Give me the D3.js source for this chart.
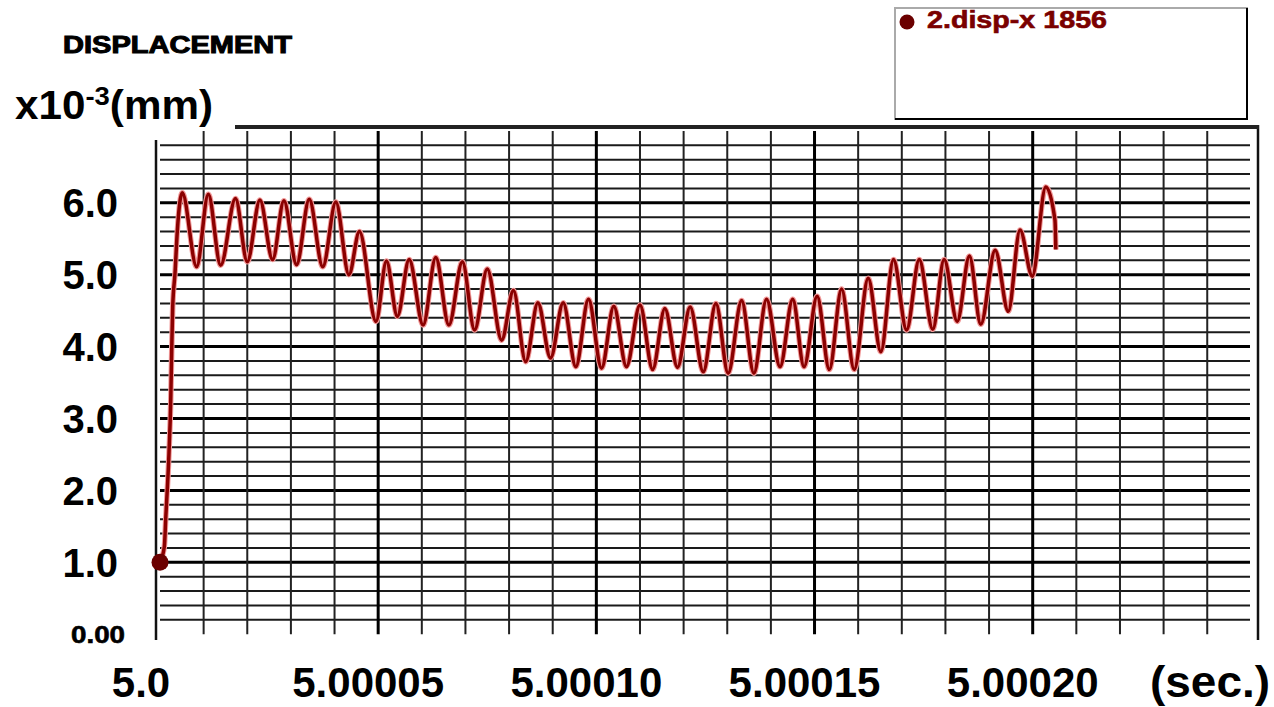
<!DOCTYPE html>
<html>
<head>
<meta charset="utf-8">
<script src="https://d3js.org/d3.v7.min.js"></script>
<style>
  body { margin: 0; background: #fff; }
  text { font-family: "Liberation Sans", Arial, sans-serif; font-weight: bold; }
</style>
</head>
<body>
<div id="graph"></div>
<script>

// time offset from 5.0 sec, in microseconds
var timeUs = [0, 1.0, 1.3, 2.06, 2.45, 2.68, 2.91, 3.44, 3.96,
  5.1, 8.4, 11.07, 13.9, 17.3, 20.0, 22.9, 25.8, 28.4, 31.3, 34.2, 37.3, 40.3, 43.3,
  45.7, 49.5, 51.9, 54.4, 57.1, 60.3, 63.2, 66.2, 69.3, 72.1, 75.0, 78.3,
  81.0, 83.8, 86.6, 89.5, 92.4, 95.3, 98.2, 101.2, 104.0, 106.9, 110.0, 112.9,
  115.7, 118.6, 121.5, 124.5, 127.4, 130.2, 133.3, 136.1, 139.0, 142.1, 145.0, 147.6,
  150.6, 153.4, 156.2, 159.1, 162.3, 165.2, 168.1, 171.1, 174.0, 177.1, 179.7, 182.7,
  185.5, 188.1, 191.4, 194.4, 197.1, 199.9, 203.0, 205.1, 205.3];

// displacement x10^-3 mm
var dispX = [1.0, 1.22, 1.59, 2.52, 3.22, 3.93, 4.55, 5.02, 5.6,
  6.14, 5.11, 6.12, 5.13, 6.06, 5.18, 6.04, 5.21, 6.03, 5.14, 6.05, 5.11, 6.01, 5.0,
  5.6, 4.35, 5.19, 4.42, 5.21, 4.30, 5.24, 4.30, 5.18, 4.23, 5.08, 4.09,
  4.78, 3.79, 4.61, 3.84, 4.61, 3.72, 4.66, 3.70, 4.56, 3.72, 4.58, 3.68,
  4.53, 3.71, 4.55, 3.65, 4.60, 3.63, 4.64, 3.63, 4.66, 3.72, 4.66, 3.72,
  4.70, 3.68, 4.80, 3.68, 4.95, 3.93, 5.21, 4.23, 5.21, 4.24, 5.21, 4.35,
  5.26, 4.31, 5.34, 4.49, 5.62, 4.98, 6.22, 5.76, 5.35];

var xTickValues = [0, 50, 100, 150, 200];
var xTickLabels = ["5.0", "5.00005", "5.00010", "5.00015", "5.00020"];
var yTickValues = [1, 2, 3, 4, 5, 6];
var yTickLabels = ["1.0", "2.0", "3.0", "4.0", "5.0", "6.0"];
var seriesName = "2.disp-x 1856";

var lineColor = "#8b0000";

var svg = d3.select("#graph")
  .append("svg")
    .attr("width", 1274)
    .attr("height", 707);

// scales
var x = d3.scaleLinear().domain([0, 200]).range([160, 1032.7]);
var y = d3.scaleLinear().domain([0, 6]).range([634.2, 202.8]);

// horizontal grid (every 0.2)
var hGrid = d3.range(1, 35).map(function(i) { return +(i * 0.2).toFixed(1); });
svg.append("g")
  .selectAll("line")
  .data(hGrid)
  .enter()
  .append("line")
    .attr("x1", 160)
    .attr("x2", 1250)
    .attr("y1", function(d) { return y(d); })
    .attr("y2", function(d) { return y(d); })
    .attr("stroke", function(d) { return Number.isInteger(d) ? "#000" : "#1a1a1a"; })
    .attr("stroke-width", function(d) { return Number.isInteger(d) ? 3 : 2; });

// vertical grid (every 10 us)
var vGrid = d3.range(10, 250, 10);
svg.append("g")
  .selectAll("line")
  .data(vGrid)
  .enter()
  .append("line")
    .attr("x1", function(d) { return x(d); })
    .attr("x2", function(d) { return x(d); })
    .attr("y1", 131)
    .attr("y2", y(0))
    .attr("stroke", function(d) { return d % 50 == 0 ? "#000" : "#222"; })
    .attr("stroke-width", function(d) { return d % 50 == 0 ? 3 : 2; });

// frame: left axis, right axis, top line
svg.append("line")
  .attr("x1", 156).attr("x2", 156).attr("y1", 140).attr("y2", 640)
  .attr("stroke", "#111").attr("stroke-width", 2.5);
svg.append("line")
  .attr("x1", 1258).attr("x2", 1258).attr("y1", 125).attr("y2", 640)
  .attr("stroke", "#111").attr("stroke-width", 2.5);
svg.append("line")
  .attr("x1", 235).attr("x2", 1259).attr("y1", 127).attr("y2", 127)
  .attr("stroke", "#222").attr("stroke-width", 4);

// y labels
svg.append("g")
  .selectAll("text")
  .data(yTickValues)
  .enter()
  .append("text")
    .attr("x", 118)
    .attr("y", function(d) { return y(d); })
    .attr("dy", "0.36em")
    .attr("text-anchor", "end")
    .style("font-size", "40px")
    .text(function(d, i) { return yTickLabels[i]; });

svg.append("text")
  .attr("x", 125)
  .attr("y", y(0))
  .attr("dy", "0.36em")
  .attr("text-anchor", "end")
  .attr("textLength", 54)
  .attr("lengthAdjust", "spacingAndGlyphs")
  .attr("stroke", "#000")
  .attr("stroke-width", 0.6)
  .style("font-size", "24px")
  .text("0.00");

// x labels
svg.append("g")
  .selectAll("text")
  .data(xTickValues)
  .enter()
  .append("text")
    .attr("x", function(d, i) { return x(d) + (i == 0 ? -19 : -10); })
    .attr("y", 697)
    .attr("text-anchor", "middle")
    .style("font-size", "42px")
    .text(function(d, i) { return xTickLabels[i]; });

svg.append("text")
  .attr("x", 1150)
  .attr("y", 697)
  .attr("textLength", 120)
  .attr("lengthAdjust", "spacingAndGlyphs")
  .style("font-size", "44px")
  .text("(sec.)");

// title and unit
svg.append("text")
  .attr("x", 63)
  .attr("y", 53)
  .attr("textLength", 229)
  .attr("lengthAdjust", "spacingAndGlyphs")
  .attr("stroke", "#000")
  .attr("stroke-width", 1)
  .style("font-size", "23px")
  .text("DISPLACEMENT");

var unit = svg.append("text")
  .attr("x", 15)
  .attr("y", 119)
  .attr("textLength", 198)
  .attr("lengthAdjust", "spacingAndGlyphs")
  .style("font-size", "40px");
unit.append("tspan").text("x10");
unit.append("tspan").attr("dy", -14).style("font-size", "26px").text("-3");
unit.append("tspan").attr("dy", 14).text("(mm)");

// the line
var lineData = timeUs.map(function(t, i) { return { t: t, v: dispX[i] }; });
var lineGen = d3.line()
  .x(function(d) { return x(d.t); })
  .y(function(d) { return y(d.v); })
  .curve(d3.curveMonotoneX);

svg.append("path")
  .datum(lineData)
  .attr("fill", "none")
  .attr("stroke", "#f29a9a")
  .attr("stroke-width", 5.5)
  .attr("d", lineGen);
svg.append("path")
  .datum(lineData)
  .attr("fill", "none")
  .attr("stroke", lineColor)
  .attr("stroke-width", 3.5)
  .attr("stroke-linejoin", "round")
  .attr("d", lineGen);

// start marker
svg.append("circle")
  .attr("cx", x(lineData[0].t))
  .attr("cy", y(lineData[0].v))
  .attr("r", 8.5)
  .attr("fill", "#6b0000");

// legend box
var legend = svg.append("g");
legend.append("rect")
  .attr("x", 895).attr("y", 8).attr("width", 352).attr("height", 111)
  .attr("fill", "#fff").attr("stroke", "#aaa").attr("stroke-width", 2);
legend.append("line")
  .attr("x1", 1247).attr("x2", 1247).attr("y1", 8).attr("y2", 120)
  .attr("stroke", "#000").attr("stroke-width", 2);
legend.append("line")
  .attr("x1", 895).attr("x2", 1248).attr("y1", 119).attr("y2", 119)
  .attr("stroke", "#000").attr("stroke-width", 2);
legend.append("circle")
  .attr("cx", 907).attr("cy", 22).attr("r", 7.5)
  .attr("fill", "#6b0000");
legend.append("text")
  .attr("x", 927)
  .attr("y", 28)
  .attr("textLength", 180)
  .attr("lengthAdjust", "spacingAndGlyphs")
  .attr("fill", "#7a0000")
  .attr("stroke", "#7a0000")
  .attr("stroke-width", 0.6)
  .style("font-size", "23px")
  .text(seriesName);

</script>
</body>
</html>
